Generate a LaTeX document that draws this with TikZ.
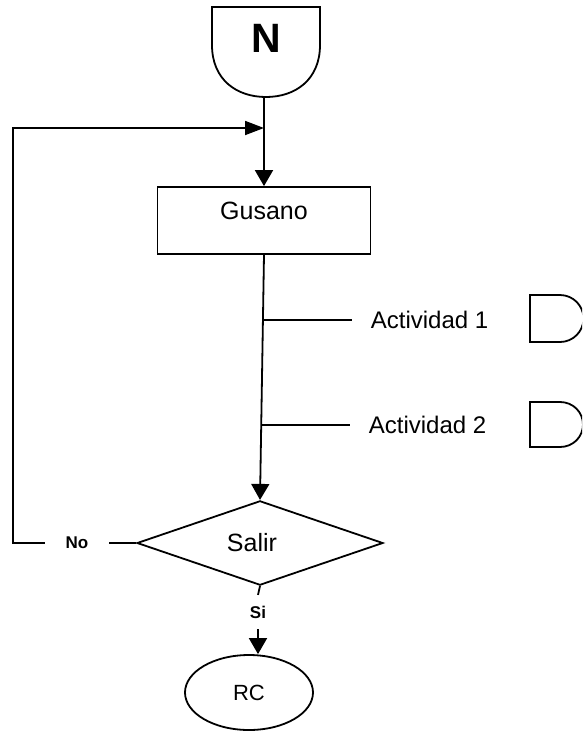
\documentclass[tikz,border=0pt]{standalone}
\usepackage{fontspec}
\setmainfont{Liberation Sans}
\usetikzlibrary{shapes.geometric,arrows.meta}
\begin{document}
\begin{tikzpicture}[x=1pt,y=-1pt,line width=1.8pt,
  tip/.style={-{Triangle[length=16pt,width=18pt]}},
  htip/.style={-{Triangle[length=19pt,width=14pt]}},
  box/.style={draw,rectangle,minimum width=213pt,minimum height=67pt,inner sep=0pt,
    font=\fontsize{25}{30}\selectfont,text height=18pt,text depth=20pt},
  dec/.style={draw,diamond,minimum width=246pt,minimum height=75pt,inner sep=0pt,
    font=\fontsize{25}{30}\selectfont},
  term/.style={draw,ellipse,minimum width=128pt,minimum height=75pt,inner sep=0pt,
    font=\fontsize{22}{26}\selectfont},
  act/.style={inner xsep=18pt,inner ysep=0pt,font=\fontsize{24}{28}\selectfont},
  lab/.style={font=\fontsize{17}{21}\selectfont\bfseries},
  conn/.style={font=\fontsize{41}{48}\selectfont\bfseries}]
\useasboundingbox (0,0) rectangle (582,732);
\clip (0,0) rectangle (582,732);
% off-page connector N
\draw (212,7) -- (320,7) -- (320,45) .. controls (320,80) and (295,97) .. (266,97)
  .. controls (237,97) and (212,80) .. (212,45) -- cycle;
\node[conn] (n) at (266,38) {N};
\coordinate (nb) at (264,97);
% process
\node[box] (gus) at (264,220.5) {Gusano};
\node[dec] (sal) at (260,543) {Salir\hspace*{16pt}};
\node[term] (rc) at (249,692.5) {RC};
% main flow
\draw[tip] (nb) -- (gus.north);
\draw[tip] (gus.south) -- (sal.north);
% activities
\coordinate (j1) at (263,320);
\coordinate (j2) at (262,425);
\node[act,anchor=west] (a1) at (352,320) {Actividad 1};
\node[act,anchor=west] (a2) at (350,425) {Actividad 2};
\draw (j1) -- (a1.west);
\draw (j2) -- (a2.west);
% side connectors (D shapes)
\draw (530,295) -- (560,295) .. controls (573,295) and (583.5,305.5) .. (583.5,318.5)
  .. controls (583.5,331.5) and (573,342) .. (560,342) -- (530,342) -- cycle;
\draw (530,402) -- (560,402) .. controls (573,402) and (583,412) .. (583,424.5)
  .. controls (583,437) and (573,447) .. (560,447) -- (530,447) -- cycle;
% loop back (No)
\node[lab,inner xsep=20pt] (no) at (77,543) {No};
\coordinate (lc) at (13,128);
\coordinate (jn) at (264,128);
\draw (sal.west) -- (no.east);
\draw[htip] (no.west) -| (lc) -- (jn);
% exit (Si)
\node[lab,inner ysep=10pt] (si) at (258,612) {Si};
\draw (sal.south) -- (si.north);
\draw[tip] (si.south) -- (si.south |- rc.north);
\end{tikzpicture}
\end{document}
